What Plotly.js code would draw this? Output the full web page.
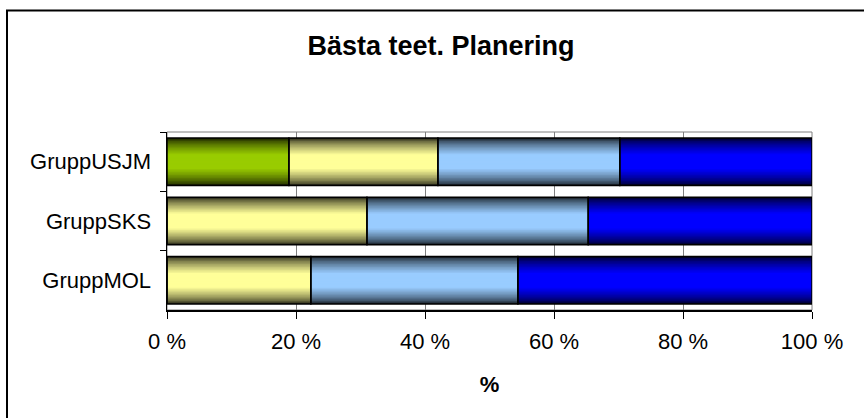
<!DOCTYPE html>
<html>
<head>
<meta charset="utf-8">
<script src="https://cdn.plot.ly/plotly-3.0.1.min.js"></script>
<style>
html,body{margin:0;padding:0;background:#fff;}
#chart{width:864px;height:418px;}
</style>
</head>
<body>
<div id="chart"></div>
<script>
// ---- data ----
const categories = ['GruppUSJM', 'GruppSKS', 'GruppMOL'];
const seriesNames = ['Serie 1', 'Serie 2', 'Serie 3', 'Serie 4'];
const serie1 = [18.9, 0, 0];
const serie2 = [23.1, 31.0, 22.3];
const serie3 = [28.2, 34.3, 32.1];
const serie4 = [29.8, 34.7, 45.6];
const xTicks = [0, 20, 40, 60, 80, 100];
const chartTitle = 'Bästa teet. Planering';
const xTitle = '%';

// ---- styles ----
const centerColors = [[153, 204, 0], [255, 255, 153], [153, 204, 255], [0, 0, 255]];
const edgeFactor = 0.18;
const layers = 16;
const barWidth = 0.8;

const series = [serie1, serie2, serie3, serie4];
const font = 'Liberation Sans, Arial, sans-serif';

function mix(c, f) {
  return 'rgb(' + c.map(v => Math.round(v * f)).join(',') + ')';
}

const traces = [];
const bases = series.map((s, i) => s.map((_, j) => {
  let b = 0;
  for (let k = 0; k < i; k++) b += series[k][j];
  return b;
}));

series.forEach((vals, i) => {
  for (let k = 0; k < layers; k++) {
    const frac = k / layers;
    const t = Math.min(1, frac / 0.68);
    const f = edgeFactor + (1 - edgeFactor) * Math.pow(t, 0.7);
    traces.push({
      type: 'bar', orientation: 'h',
      y: categories, x: vals, base: bases[i],
      width: barWidth * (1 - frac),
      marker: {color: mix(centerColors[i], f), line: {width: 0}},
      name: seriesNames[i], showlegend: false, hoverinfo: 'skip'
    });
  }
});
series.forEach((vals, i) => {
  traces.push({
    type: 'bar', orientation: 'h',
    y: categories, x: vals, base: bases[i],
    width: barWidth,
    marker: {color: 'rgba(0,0,0,0)', line: {color: '#000', width: 1.5}},
    name: seriesNames[i], showlegend: false, hoverinfo: 'skip'
  });
});

const L = 167, R = 52, T = 132, B = 108, W = 864, H = 418;
const pw = W - L - R, ph = H - T - B;

const layout = {
  width: W, height: H,
  margin: {l: L, r: R, t: T, b: B, pad: 0},
  paper_bgcolor: '#fff', plot_bgcolor: '#fff',
  barmode: 'overlay',
  showlegend: false,
  font: {family: font, size: 22, color: '#000'},
  title: {
    text: chartTitle, font: {family: font, size: 27, weight: 'bold', color: '#000'},
    xref: 'container', yref: 'container', x: 441 / W, xanchor: 'center',
    y: 1 - 46 / H, yanchor: 'middle'
  },
  xaxis: {
    range: [0, 100], tickvals: xTicks, ticktext: xTicks.map(v => v + ' %'),
    showgrid: true, gridcolor: '#808080', gridwidth: 1,
    zeroline: false, showline: true, linecolor: '#000', linewidth: 1.5,
    ticks: 'outside', ticklen: 7, tickcolor: '#000', tickwidth: 1,
    ticklabelstandoff: 4,
    tickfont: {family: font, size: 22, color: '#000'},
    title: {text: xTitle, font: {family: font, size: 22, weight: 'bold', color: '#000'}, standoff: 23},
    fixedrange: true
  },
  yaxis: {
    type: 'category', autorange: 'reversed', categoryorder: 'array', categoryarray: categories,
    showgrid: false, zeroline: false, showline: true, linecolor: '#000', linewidth: 1.5,
    ticks: 'outside', tickson: 'boundaries', ticklen: 6, tickcolor: '#000', tickwidth: 1,
    ticklabelstandoff: 10,
    tickfont: {family: font, size: 22, color: '#000'},
    fixedrange: true
  },
  shapes: [
    {type: 'rect', xref: 'paper', yref: 'paper', x0: 0, x1: 1, y0: 0, y1: 1,
     line: {color: '#808080', width: 1}, layer: 'below'},
    {type: 'rect', xref: 'paper', yref: 'paper',
     x0: (7 - L) / pw, x1: (W + 20 - L) / pw,
     y0: -(H + 20 - (T + ph)) / ph, y1: (T + ph - 10.5) / ph,
     line: {color: '#000', width: 2}, layer: 'above'}
  ]
};

Plotly.newPlot('chart', traces, layout, {displayModeBar: false, staticPlot: true});
</script>
</body>
</html>
